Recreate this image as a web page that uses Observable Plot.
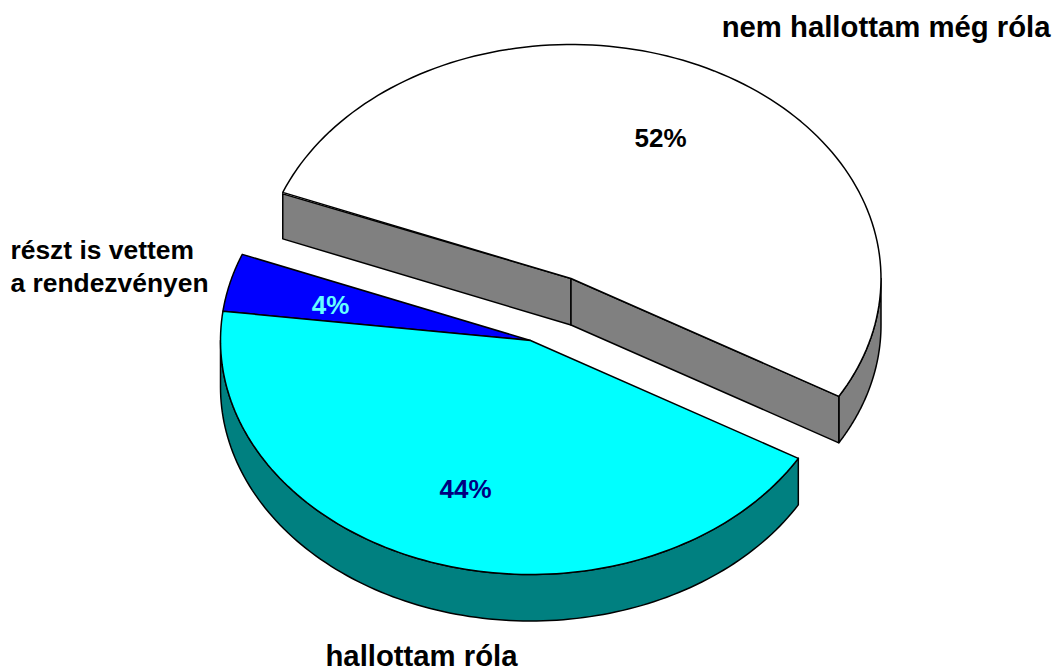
<!DOCTYPE html>
<html><head><meta charset="utf-8">
<script src="https://cdn.jsdelivr.net/npm/d3@7"></script>
<script src="https://cdn.jsdelivr.net/npm/@observablehq/plot@0.6"></script>
<style>html,body{margin:0;padding:0;background:#fff}svg{display:block}</style>
</head><body><div id="chart"></div>
<script>
const categories = ["nem hallottam még róla", "hallottam róla", "részt is vettem\na rendezvényen"];
const shares = [52.4, 43.6, 4.0];
const topColors = ["#ffffff", "#00ffff", "#0000ff"];
const wallColors = ["#808080", "#008080", "#00008f"];
const valueColors = ["#000000", "#000080", "#66ffff"];

// layout of the tilted pie
const rx = 310, ry = 234, depth = 46.5, startDeg = 291.6;
const centers = [[570.5, 278], [530, 340], [530, 340]];
const valueAt = [[660, 138.5], [465, 489], [330, 305]];
const nameAt = [[1050, 25, "end", 29.3], [421, 654, "middle", 29.3], [10, 264, "start", 26.4]];

let acc = startDeg;
const slices = shares.map((v, i) => {
  const a0 = acc, a1 = acc + v * 3.6; acc = a1;
  return {a0, a1, c: centers[i], top: topColors[i], wall: wallColors[i]};
});
const pt = (s, deg, dz = 0) => {
  const t = deg * Math.PI / 180;
  return {x: s.c[0] + rx * Math.sin(t), y: s.c[1] - ry * Math.cos(t) + dz};
};
const arc = (s, d0, d1, dz = 0) => d3.range(0, 121).map(k => pt(s, d0 + (d1 - d0) * k / 120, dz));
const apex = (s, dz = 0) => ({x: s.c[0], y: s.c[1] + dz});
const closed = p => [...p, p[0]];
const poly = (p, fill, sw = 1.5) => Plot.line(closed(p), {x: "x", y: "y", fill, stroke: "#000", strokeWidth: sw, strokeLinejoin: "round"});

const [white, cyan, blue] = slices;
const marks = [
  // white slice walls
  poly([...arc(white, 360 + 90, white.a1), ...arc(white, white.a1, 360 + 90, depth)], white.wall),
  poly([pt(white, white.a0, 1.5), apex(white), apex(white, depth), pt(white, white.a0, depth)], white.wall),
  poly([apex(white), pt(white, white.a1), pt(white, white.a1, depth), apex(white, depth)], white.wall),
  poly([apex(white), ...arc(white, white.a0, white.a1)], white.top),
  // cyan + blue slice walls
  poly([...arc(cyan, cyan.a0, 630), ...arc(cyan, 630, cyan.a0, depth)], cyan.wall),
  poly([apex(blue), ...arc(blue, blue.a0, blue.a1)], blue.top),
  poly([apex(cyan), ...arc(cyan, cyan.a0, cyan.a1)], cyan.top),
  Plot.text(shares, {
    x: (d, i) => valueAt[i][0], y: (d, i) => valueAt[i][1],
    text: d => d3.format(".0f")(d) + "%", fill: (d, i) => valueColors[i],
    fontSize: 26, fontWeight: "bold", textAnchor: "middle"
  }),
  ...categories.map((c, i) => Plot.text([c], {
    x: () => nameAt[i][0], y: () => nameAt[i][1], text: d => d,
    fontSize: nameAt[i][3], fontWeight: "bold", textAnchor: nameAt[i][2], fill: "#000", lineHeight: 1.25
  }))
];

const plot = Plot.plot({
  width: 1058, height: 672, margin: 0,
  style: {fontFamily: "'Liberation Sans', Arial, sans-serif", background: "#fff"},
  x: {domain: [0, 1058], range: [0, 1058], axis: null},
  y: {domain: [0, 672], range: [0, 672], axis: null},
  marks
});
document.getElementById("chart").appendChild(plot);
</script></body></html>
